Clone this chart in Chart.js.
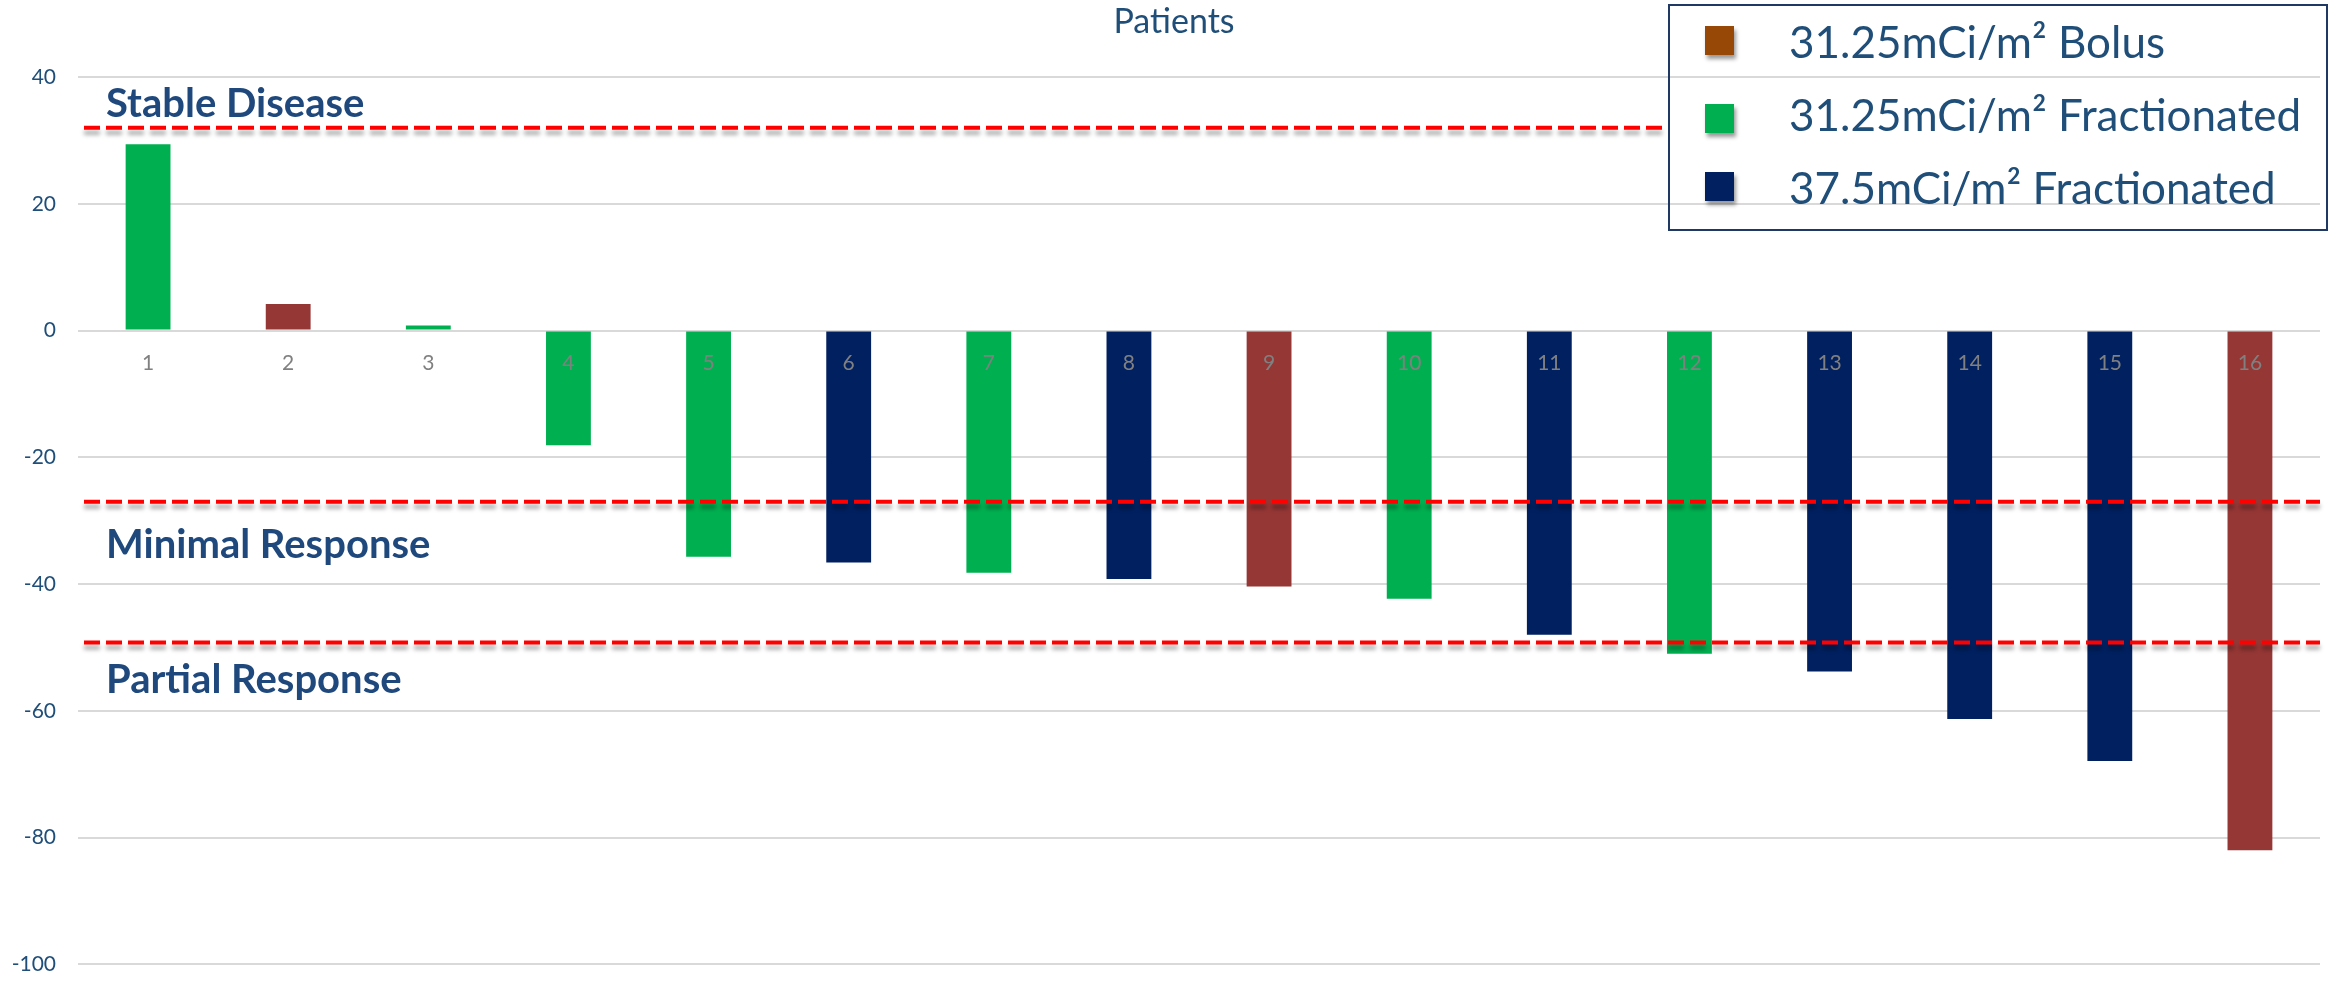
<!DOCTYPE html>
<html>
<head>
<meta charset="utf-8">
<title>Patients</title>
<script src="https://cdn.jsdelivr.net/npm/chart.js@4.4.1/dist/chart.umd.min.js"></script>
<style>
  html, body { margin: 0; padding: 0; background: #fff; }
  #wrap { width: 2336px; height: 999px; position: relative; }
</style>
</head>
<body>
<div id="wrap"><canvas id="chart"></canvas></div>
<script>
// patient numbers along the x axis
const patients = ['1', '2', '3', '4', '5', '6', '7', '8', '9', '10', '11', '12', '13', '14', '15', '16'];
// best change from baseline, one value per patient
const change = [29.4, 4.2, 0.8, -18.1, -35.7, -36.6, -38.2, -39.2, -40.4, -42.3, -48.0, -51.0, -53.8, -61.3, -67.9, -82.0];
// dosing cohort of each patient (index into cohorts)
const cohortOf = [1, 0, 1, 1, 1, 2, 1, 2, 0, 1, 2, 1, 2, 2, 2, 0];
const cohorts = ['31.25mCi/m² Bolus', '31.25mCi/m² Fractionated', '37.5mCi/m² Fractionated'];
const barColors = ['#953735', '#00b050', '#002060'];
const keyColors = ['#974706', '#00b050', '#002060'];
// response thresholds
const thresholdValues = [32, -27, -49.2];
const thresholdLabels = ['Stable Disease', 'Minimal Response', 'Partial Response'];
const yTicks = { min: -100, max: 40, step: 20 };

const navy = '#1f4e79';
const keyBox = { x: 1669, y: 5, w: 658, h: 225 };

const datasets = cohorts.map((name, c) => ({
  label: name,
  data: change.map((v, i) => (cohortOf[i] === c ? v : null)),
  backgroundColor: barColors[c],
  borderWidth: 0,
  categoryPercentage: 0.8,
  barPercentage: 0.4
}));

// axis caption above the plot, a little right of centre
const captionPlugin = {
  id: 'caption',
  afterDraw(chart) {
    const ctx = chart.ctx;
    ctx.save();
    ctx.fillStyle = navy;
    ctx.font = '34px Lato';
    ctx.textAlign = 'center';
    ctx.textBaseline = 'middle';
    ctx.fillText('Patients', (chart.chartArea.left + chart.chartArea.right) / 2 - 25, 22);
    ctx.restore();
  }
};

// dashed threshold lines with their captions
const thresholdPlugin = {
  id: 'thresholds',
  afterDatasetsDraw(chart) {
    const { ctx, chartArea, scales } = chart;
    const offsets = [-11, 56, 51]; // caption baseline relative to its line
    thresholdValues.forEach((v, i) => {
      const y = scales.y.getPixelForValue(v);
      // the top line stops where the key box begins
      const end = y < keyBox.y + keyBox.h ? keyBox.x - 2 : chartArea.right;
      ctx.save();
      ctx.strokeStyle = '#ff0000';
      ctx.lineWidth = 4;
      ctx.setLineDash([16, 6]);
      ctx.shadowColor = 'rgba(0,0,0,0.35)';
      ctx.shadowBlur = 4;
      ctx.shadowOffsetY = 5;
      ctx.beginPath();
      ctx.moveTo(chartArea.left + 6, y);
      ctx.lineTo(end, y);
      ctx.stroke();
      ctx.restore();

      ctx.save();
      ctx.fillStyle = '#1f497d';
      ctx.font = 'bold 40px Lato';
      ctx.textBaseline = 'alphabetic';
      ctx.fillText(thresholdLabels[i], chartArea.left + 28, y + offsets[i]);
      ctx.restore();
    });
  }
};

// boxed key in the top right corner
const keyPlugin = {
  id: 'keyBox',
  afterDraw(chart) {
    const ctx = chart.ctx;
    const b = keyBox;
    ctx.save();
    ctx.strokeStyle = '#1f3864';
    ctx.lineWidth = 2;
    ctx.strokeRect(b.x, b.y, b.w, b.h);
    const textRows = [38.5, 112, 185];
    const swatchTops = [21, 99, 167];
    cohorts.forEach((name, i) => {
      ctx.save();
      ctx.shadowColor = 'rgba(0,0,0,0.4)';
      ctx.shadowBlur = 4;
      ctx.shadowOffsetX = 2;
      ctx.shadowOffsetY = 4;
      ctx.fillStyle = keyColors[i];
      ctx.fillRect(b.x + 36, b.y + swatchTops[i], 29, 29);
      ctx.restore();
      ctx.fillStyle = navy;
      ctx.font = '44px Lato';
      ctx.textBaseline = 'middle';
      ctx.fillText(name, b.x + 120, b.y + textRows[i]);
    });
    ctx.restore();
  }
};

new Chart(document.getElementById('chart'), {
  type: 'bar',
  data: { labels: patients, datasets: datasets },
  options: {
    responsive: true,
    maintainAspectRatio: false,
    animation: false,
    layout: { padding: { top: 77, right: 16, bottom: 12, left: 0 } },
    plugins: {
      legend: { display: false },
      tooltip: { enabled: false },
      title: { display: false }
    },
    scales: {
      x: {
        stacked: true,
        position: { y: 0 },
        grid: { display: false, drawTicks: false },
        border: { display: false },
        ticks: {
          z: 1,
          color: '#808080',
          font: { family: 'Lato', size: 21 },
          padding: 20
        }
      },
      y: {
        min: yTicks.min,
        max: yTicks.max,
        grid: { color: '#d9d9d9', lineWidth: 2, drawTicks: false },
        border: { display: false },
        ticks: {
          stepSize: yTicks.step,
          color: navy,
          font: { family: 'Lato', size: 21 },
          padding: 22
        },
        afterFit(scale) { scale.width = 78; }
      }
    }
  },
  plugins: [captionPlugin, thresholdPlugin, keyPlugin]
});
</script>
</body>
</html>
